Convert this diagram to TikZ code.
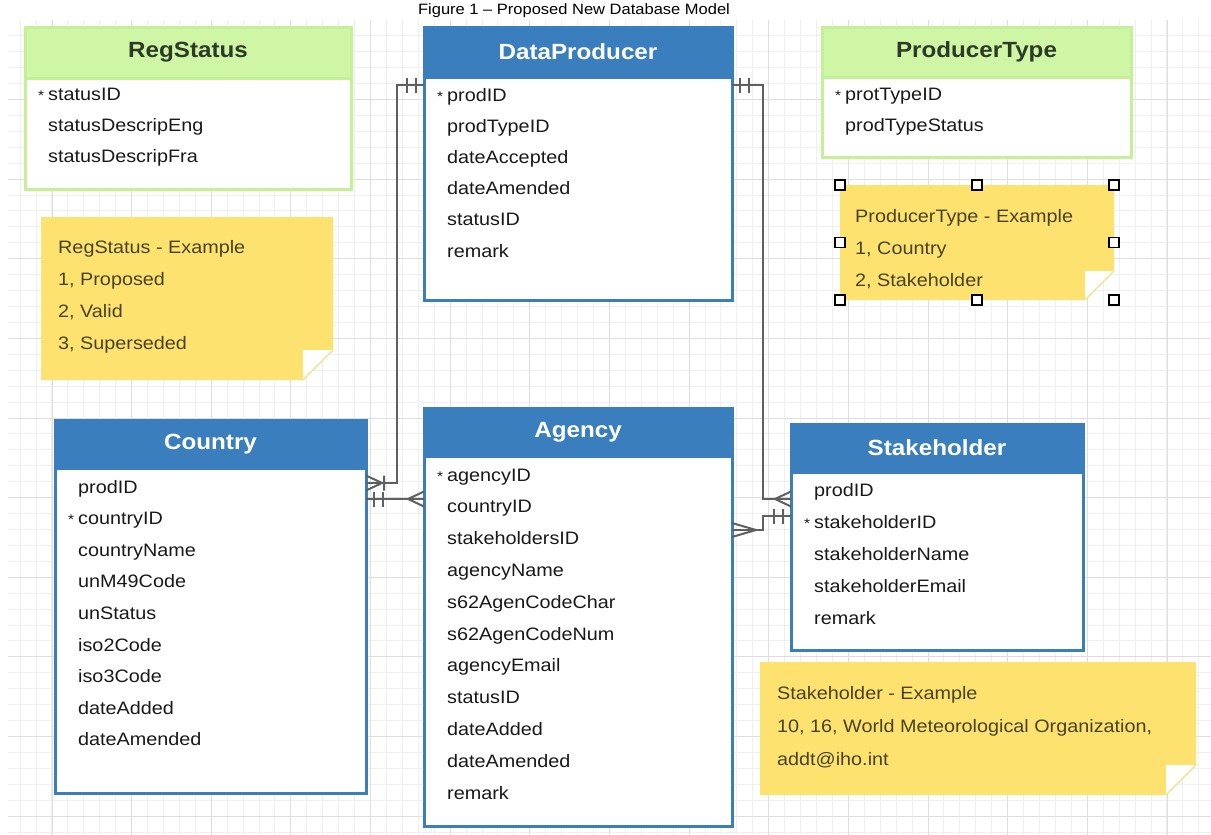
\documentclass[tikz,border=0pt]{standalone}
\usepackage{fontspec}
\setmainfont{Liberation Sans}[FakeStretch=1.1]
\usetikzlibrary{calc}
\definecolor{erblue}{RGB}{58,126,190}
\definecolor{ergreen}{RGB}{206,246,165}
\definecolor{ergreenb}{RGB}{196,240,150}
\definecolor{greentitle}{RGB}{45,58,40}
\definecolor{noteyellow}{RGB}{253,226,112}
\definecolor{foldline}{RGB}{240,230,160}
\definecolor{notetext}{RGB}{72,66,40}
\definecolor{rowtext}{RGB}{25,25,25}
\definecolor{conncol}{RGB}{95,95,95}
\definecolor{gridminor}{RGB}{239,239,239}
\definecolor{gridmajor}{RGB}{222,222,222}
\newcommand\pk{\llap{\fontsize{14}{14}\selectfont *\hspace{4pt}}}
\begin{document}
\begin{tikzpicture}[x=1pt,y=-1pt,
  bluebox/.style={draw=erblue, line width=3pt, fill=white, inner sep=0pt, outer sep=0pt},
  greenbox/.style={draw=ergreenb, line width=3pt, fill=white, inner sep=0pt, outer sep=0pt},
  bluehead/.style={draw=erblue, line width=3pt, fill=erblue, text=white, inner sep=0pt, outer sep=0pt, anchor=north, font=\bfseries\fontsize{22}{22}\selectfont},
  greenhead/.style={draw=ergreenb, line width=3pt, fill=ergreen, text=greentitle, inner sep=0pt, outer sep=0pt, anchor=north, font=\bfseries\fontsize{22}{22}\selectfont},
  row/.style={anchor=base west, inner sep=0pt, text=rowtext, font=\fontsize{18}{18}\selectfont},
  notetxt/.style={anchor=base west, inner sep=0pt, text=notetext, font=\fontsize{18}{18}\selectfont},
  notebox/.style={inner sep=0pt, outer sep=0pt},
  handle/.style={draw=black, fill=white, line width=1.2pt, minimum size=10pt, inner sep=0pt},
  conn/.style={draw=conncol, line width=2pt},
  pics/erone/.style={code={\draw[conn] (8,-7.5)--(8,7.5) (17,-7.5)--(17,7.5);}},
  pics/ermany/.style={code={\draw[conn] (0,-7.5)--(16,0)--(0,7.5);}},
  pics/ermanylong/.style={code={\draw[conn] (0,-7)--(24,0)--(0,7);}},
  pics/eronemany/.style={code={\draw[conn] (0,-7.5)--(16,0)--(0,7.5) (18,-7.5)--(18,7.5);}}
]
\useasboundingbox (0,0) rectangle (1211,835);
\fill[white] (0,0) rectangle (1211,835);
% grid
\begin{scope}
\clip (8,20) rectangle (1211,835);
\foreach \i in {0,...,76} \draw[gridminor, line width=1pt] ({4.2+\i*15.928},20) -- ++(0,815);
\foreach \j in {0,...,52} \draw[gridminor, line width=1pt] (8,{19.8+\j*15.928}) -- ++(1203,0);
\foreach \i in {0,...,15} \draw[gridmajor, line width=1pt] ({-27.6+\i*79.64},20) -- ++(0,815);
\foreach \j in {0,...,10} \draw[gridmajor, line width=1pt] (8,{19.8+\j*79.64}) -- ++(1203,0);
\end{scope}

% figure title
\node[anchor=base, inner sep=0pt, font=\fontsize{15}{15}\selectfont] (fig) at (574,14) {Figure 1 – Proposed New Database Model};

% ---------- RegStatus ----------
\node[greenbox, minimum width=326pt, minimum height=162pt] (rs) at (188,108) {};
\node[greenhead, minimum width=326pt, minimum height=51pt] (rsh) at (rs.north) {RegStatus};
\foreach \t [count=\k] in {\pk statusID, statusDescripEng, statusDescripFra}
  \node[row] (rs-\k) at (48,{100+(\k-1)*31}) {\t};

% ---------- ProducerType ----------
\node[greenbox, minimum width=309pt, minimum height=130pt] (pt) at (976.5,92) {};
\node[greenhead, minimum width=309pt, minimum height=50pt] (pth) at (pt.north) {ProducerType};
\foreach \t [count=\k] in {\pk protTypeID, prodTypeStatus}
  \node[row] (pt-\k) at (845,{100+(\k-1)*31}) {\t};

% ---------- DataProducer ----------
\node[bluebox, minimum width=308pt, minimum height=273pt] (dp) at (578,163.5) {};
\node[bluehead, minimum width=308pt, minimum height=50pt] (dph) at (dp.north) {DataProducer};
\foreach \t [count=\k] in {\pk prodID, prodTypeID, dateAccepted, dateAmended, statusID, remark}
  \node[row] (dp-\k) at (447,{101+(\k-1)*31.2}) {\t};

% ---------- Country ----------
\node[bluebox, minimum width=311pt, minimum height=373pt] (co) at (210.5,606.5) {};
\node[bluehead, minimum width=311pt, minimum height=48pt] (coh) at (co.north) {Country};
\foreach \t [count=\k] in {prodID, \pk countryID, countryName, unM49Code, unStatus, iso2Code, iso3Code, dateAdded, dateAmended}
  \node[row] (co-\k) at (78,{493+(\k-1)*31.6}) {\t};

% ---------- Agency ----------
\node[bluebox, minimum width=308pt, minimum height=418pt] (ag) at (578,617) {};
\node[bluehead, minimum width=308pt, minimum height=48pt] (agh) at (ag.north) {Agency};
\foreach \t [count=\k] in {\pk agencyID, countryID, stakeholdersID, agencyName, s62AgenCodeChar, s62AgenCodeNum, agencyEmail, statusID, dateAdded, dateAmended, remark}
  \node[row] (ag-\k) at (447,{481+(\k-1)*31.8}) {\t};

% ---------- Stakeholder ----------
\node[bluebox, minimum width=292pt, minimum height=226pt] (sh) at (937,537) {};
\node[bluehead, minimum width=292pt, minimum height=48pt] (shh) at (sh.north) {Stakeholder};
\foreach \t [count=\k] in {prodID, \pk stakeholderID, stakeholderName, stakeholderEmail, remark}
  \node[row] (sh-\k) at (814,{496+(\k-1)*32}) {\t};

% ---------- Notes ----------
% RegStatus example
\node[notebox, minimum width=292pt, minimum height=163pt] (n1) at (187,298.5) {};
\fill[noteyellow] (n1.north west) -- (n1.north east) -- ([yshift=30pt]n1.south east) -- ([xshift=-30pt]n1.south east) -- (n1.south west) -- cycle;
\fill[white] ([shift={(-30pt,30pt)}]n1.south east) -- ([yshift=30pt]n1.south east) -- ([xshift=-30pt]n1.south east) -- cycle;
\draw[foldline, line width=1.5pt] ([yshift=30pt]n1.south east) -- ([xshift=-30pt]n1.south east);
\foreach \t [count=\k] in {RegStatus - Example, {1, Proposed}, {2, Valid}, {3, Superseded}}
  \node[notetxt] (n1-\k) at (58,{253+(\k-1)*32.3}) {\t};

% ProducerType example
\node[notebox, minimum width=274pt, minimum height=115pt] (n2) at (977,242.5) {};
\fill[noteyellow] (n2.north west) -- (n2.north east) -- ([yshift=29pt]n2.south east) -- ([xshift=-29pt]n2.south east) -- (n2.south west) -- cycle;
\fill[white] ([shift={(-29pt,29pt)}]n2.south east) -- ([yshift=29pt]n2.south east) -- ([xshift=-29pt]n2.south east) -- cycle;
\draw[foldline, line width=1.5pt] ([yshift=29pt]n2.south east) -- ([xshift=-29pt]n2.south east);
\foreach \t [count=\k] in {ProducerType - Example, {1, Country}, {2, Stakeholder}}
  \node[notetxt] (n2-\k) at (855,{222+(\k-1)*32}) {\t};
\foreach \a [count=\k] in {north west, north, north east, west, east, south west, south, south east}
  \node[handle] (hd-\k) at (n2.\a) {};

% Stakeholder example
\node[notebox, minimum width=436pt, minimum height=133pt] (n3) at (978,728.5) {};
\fill[noteyellow] (n3.north west) -- (n3.north east) -- ([yshift=30pt]n3.south east) -- ([xshift=-30pt]n3.south east) -- (n3.south west) -- cycle;
\fill[white] ([shift={(-30pt,30pt)}]n3.south east) -- ([yshift=30pt]n3.south east) -- ([xshift=-30pt]n3.south east) -- cycle;
\draw[foldline, line width=1.5pt] ([yshift=30pt]n3.south east) -- ([xshift=-30pt]n3.south east);
\foreach \t [count=\k] in {Stakeholder - Example, {10, 16, World Meteorological Organization,}, addt@iho.int}
  \node[notetxt] (n3-\k) at (777,{699+(\k-1)*33}) {\t};

% ---------- Connectors ----------
\coordinate (c1s) at ([yshift=-58pt]dp.north west);
\coordinate (c1e) at ([yshift=-63pt]co.north east);
\coordinate (c2s) at ([yshift=-79pt]co.north east);
\coordinate (c2e) at ([yshift=-91pt]ag.north west);
\coordinate (c3s) at ([yshift=-58pt]dp.north east);
\coordinate (c3e) at ([yshift=-75pt]sh.north west);
\coordinate (c4s) at ([yshift=-122pt]ag.north east);
\coordinate (c4e) at ([yshift=-92pt]sh.north west);

\draw[conn] (c1s) -- ++(-27,0) |- (c1e);
\draw[conn] (c2s) -- (c2e);
\draw[conn] (c3s) -- ++(31,0) |- (c3e);
\draw[conn] (c4s) -- ++(31,0) |- (c4e);

\pic[rotate=180] at (c1s) {erone};
\pic at (c1e) {eronemany};
\pic at (c2s) {erone};
\pic[rotate=180] at (c2e) {ermany};
\pic at (c3s) {erone};
\pic[rotate=180] at (c3e) {ermany};
\pic at (c4s) {ermanylong};
\pic[rotate=180] at (c4e) {erone};
\end{tikzpicture}
\end{document}
